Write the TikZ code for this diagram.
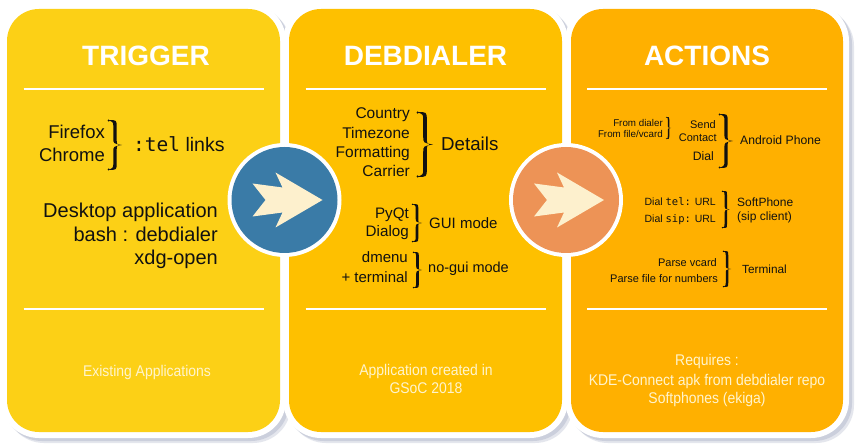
\documentclass[tikz,border=0pt]{standalone}
\usepackage{fontspec}
\setmainfont{Liberation Sans}
\newfontfamily\monof{DejaVu Sans Mono}
\newfontfamily\narrowf[FakeStretch=0.9]{Liberation Sans}
\definecolor{pone}{RGB}{252,208,22}
\definecolor{ptwo}{RGB}{254,192,0}
\definecolor{pthree}{RGB}{255,176,0}
\definecolor{cblue}{RGB}{58,123,167}
\definecolor{corange}{RGB}{237,147,86}
\definecolor{arrowfill}{RGB}{253,240,205}
\definecolor{shadowc}{RGB}{180,186,204}
\definecolor{txt}{RGB}{17,17,17}
\definecolor{pale}{RGB}{255,244,205}
\newcommand{\fs}[1]{\fontsize{#1}{#1}\selectfont}
% curly brace: x-left, y-top, y-bottom, width, stem thickness
\newcommand{\curlyb}[5]{%
  \pgfmathsetmacro{\bxa}{#1}%
  \pgfmathsetmacro{\bxm}{#1+#4*0.5}%
  \pgfmathsetmacro{\bxp}{#1+#4}%
  \pgfmathsetmacro{\bym}{(#2+#3)/2}%
  \pgfmathsetmacro{\brr}{min(#4*0.5,(#3-#2)/4)}%
  \pgfmathsetmacro{\bto}{\bxm+#5/2}%
  \pgfmathsetmacro{\bti}{\bxm-#5/2}%
  \pgfmathsetmacro{\btr}{#5*0.32}%
  \fill[txt] (\bxa,#2) .. controls (\bto,#2) .. (\bto,{#2+\brr})
    -- (\bto,{\bym-\brr}) .. controls (\bto,\bym) .. (\bxp,\bym)
    .. controls (\bto,\bym) .. (\bto,{\bym+\brr})
    -- (\bto,{#3-\brr}) .. controls (\bto,#3) .. (\bxa,#3)
    .. controls (\bti,{#3-0.3*\brr}) .. (\bti,{#3-\brr})
    -- (\bti,{\bym+\brr}) .. controls (\bti,{\bym+0.2*\brr}) .. (\bxp,\bym)
    .. controls (\bti,{\bym-0.2*\brr}) .. (\bti,{\bym-\brr})
    -- (\bti,{#2+\brr}) .. controls (\bti,{#2+0.3*\brr}) .. (\bxa,#2) -- cycle;
  \fill[txt] ({\bxa+\btr*0.6},{#2+\btr*0.5}) circle (\btr);
  \fill[txt] ({\bxa+\btr*0.6},{#3-\btr*0.5}) circle (\btr);}
\begin{document}
\begin{tikzpicture}[x=1pt,y=-1pt,
  title/.style={font=\fs{28}\bfseries, text=white, anchor=base, inner sep=0},
  rt/.style={text=txt, inner sep=0, anchor=base east},
  lt/.style={text=txt, inner sep=0, anchor=base west},
  foot/.style={font=\narrowf\fs{15.5}, text=pale, inner sep=0, anchor=base},
  rule/.style={draw=white, line width=1.6pt}]
\useasboundingbox (0,0) rectangle (857,446);
\fill[white] (0,0) rectangle (857,446);
% shadows
\foreach \l/\r in {7/280, 289/562, 571/843}{
  \fill[shadowc, opacity=0.35, rounded corners=38] ({\l-6+5},{3+5}) rectangle ({\r+6+5},{438+5});
  \fill[shadowc, opacity=0.5, rounded corners=38] ({\l-6+3},{3+3}) rectangle ({\r+6+3},{438+3});
}
% white borders
\foreach \l/\r in {7/280, 289/562, 571/843}{
  \fill[white, rounded corners=38] ({\l-6},3) rectangle ({\r+6},438);
}
% panels
\foreach \l/\r/\c in {7/280/pone, 289/562/ptwo, 571/843/pthree}{
  \fill[\c, rounded corners=32] (\l,9) rectangle (\r,432);
  \draw[rule] ({(\l+\r)/2-120},89) -- ({(\l+\r)/2+120},89);
  \draw[rule] ({(\l+\r)/2-120},309) -- ({(\l+\r)/2+120},309);
}
% titles
\node[title] (t1) at (146,66) {TRIGGER};
\node[title] (t2) at (425.5,66) {DEBDIALER};
\node[title] (t3) at (707,66) {ACTIONS};
% panel 1
\node[rt, font=\fs{18.5}] (ff) at (105,139) {Firefox};
\node[rt, font=\fs{18.5}] (ch) at (105,162) {Chrome};
\curlyb{108}{120}{170}{14}{3.4}
\node[lt, font=\fs{19.5}] (tl) at (133,152) {{\monof :tel} links};
\node[rt, font=\fs{20}] (da) at (218,218) {Desktop application};
\node[rt, font=\fs{20}] (bd) at (218,241.5) {bash : debdialer};
\node[rt, font=\fs{20}] (xo) at (218,265) {xdg-open};
\node[foot] (f1) at (147,377) {Existing Applications};
% panel 2
\node[rt, font=\fs{15.5}] (co) at (410,119) {Country};
\node[rt, font=\fs{15.5}] (tz) at (410,138.3) {Timezone};
\node[rt, font=\fs{15.5}] (fo) at (410,157.7) {Formatting};
\node[rt, font=\fs{15.5}] (ca) at (410,177) {Carrier};
\curlyb{417}{112}{177}{16}{3.6}
\node[lt, font=\fs{18.7}] (de) at (441,151) {Details};
\node[rt, font=\fs{15.2}] (pq) at (409,219) {PyQt};
\node[rt, font=\fs{15.2}] (dl) at (409,237) {Dialog};
\curlyb{412}{204}{242}{10}{2.6}
\node[lt, font=\fs{15}] (gm) at (429,229) {GUI mode};
\node[rt, font=\fs{15}] (dm) at (408,263) {dmenu};
\node[rt, font=\fs{15}] (te) at (408,283) {+ terminal};
\curlyb{413}{252}{288}{9}{2.6}
\node[lt, font=\fs{14.5}] (ng) at (428,273) {no-gui mode};
\node[foot] (f2a) at (426,375) {Application created in};
\node[foot] (f2b) at (426,393) {GSoC 2018};
% panel 3
\node[rt, font=\fs{9.8}] (fd) at (663,127) {From dialer};
\node[rt, font=\fs{9.8}] (fv) at (663,138) {From file/vcard};
\curlyb{666}{117}{139}{5}{1.5}
\node[rt, font=\fs{11}] (se) at (716,129) {Send};
\node[rt, font=\fs{11}] (ct) at (717,142) {Contact};
\node[rt, font=\fs{12.2}] (di) at (714,161) {Dial};
\curlyb{719}{114}{168}{14}{3.2}
\node[lt, font=\fs{12.2}] (ap) at (740,145) {Android Phone};
\node[rt, font=\fs{10.5}] (dt) at (716,206) {Dial {\monof tel:} URL};
\node[rt, font=\fs{10.5}] (ds) at (716,223) {Dial {\monof sip:} URL};
\curlyb{722}{191}{228}{7.5}{2.5}
\node[lt, font=\fs{12}] (sp) at (737,207) {SoftPhone};
\node[lt, font=\fs{12}] (sc) at (737,221) {(sip client)};
\node[rt, font=\fs{11}] (pv) at (717,267) {Parse vcard};
\node[rt, font=\fs{11}] (pf) at (718,283) {Parse file for numbers};
\curlyb{723}{251}{287}{8}{2.5}
\node[lt, font=\fs{11.8}] (tm) at (742,274) {Terminal};
\node[foot] (f3a) at (707,366) {Requires :};
\node[foot] (f3b) at (707,385) {KDE-Connect apk from debdialer repo};
\node[foot] (f3c) at (707,403) {Softphones (ekiga)};
% circles with arrows
\foreach \cx/\cc in {284.5/cblue, 566/corange}{
  \fill[white] (\cx,200) circle (57);
  \fill[\cc] (\cx,200) circle (53);
  \fill[arrowfill] ({\cx+38},200) -- ({\cx-9},172.5) -- ({\cx-2},187.5) -- ({\cx-32},183.5)
    -- ({\cx-19},200) -- ({\cx-32},216.5) -- ({\cx-2},212.5) -- ({\cx-9},227.5) -- cycle;
}
\end{tikzpicture}
\end{document}
